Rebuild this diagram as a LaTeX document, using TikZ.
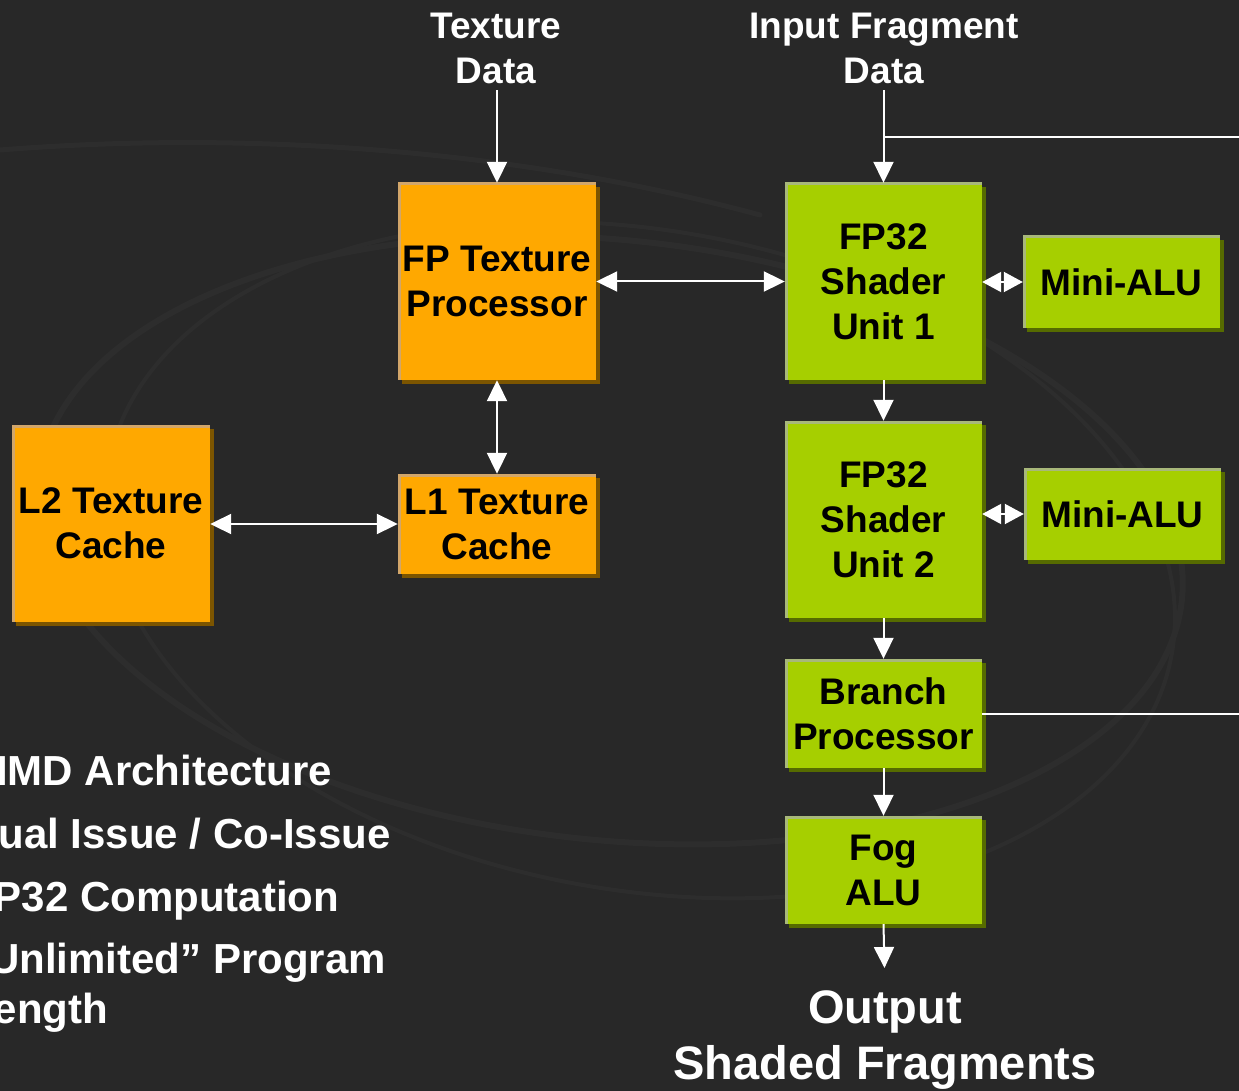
\documentclass[tikz,border=0pt]{standalone}
\usepackage{fontspec}
\setmainfont{Liberation Sans}
\usetikzlibrary{arrows.meta,shadows}

\definecolor{bg}{HTML}{282828}
\definecolor{swirl}{HTML}{2D2D2D}
\definecolor{orfill}{HTML}{FFA800}
\definecolor{oredge}{HTML}{D2A66A}
\definecolor{orshade}{HTML}{7C5500}
\definecolor{grfill}{HTML}{A6CF00}
\definecolor{gredge}{HTML}{A8B87A}
\definecolor{grshade}{HTML}{566B00}

\tikzset{
  blockbase/.style={inner sep=0pt, align=center, text=black,
    font=\fontsize{37}{45}\selectfont\bfseries},
  orangebox/.style={blockbase, fill=orfill,
    drop shadow={shadow xshift=4pt, shadow yshift=-4pt, fill=orshade, opacity=1},
    path picture={\draw[oredge, line width=5pt]
      (path picture bounding box.south west) -- (path picture bounding box.north west)
      -- (path picture bounding box.north east);}},
  greenbox/.style={blockbase, fill=grfill,
    drop shadow={shadow xshift=4pt, shadow yshift=-4pt, fill=grshade, opacity=1},
    path picture={\draw[gredge, line width=5pt]
      (path picture bounding box.south west) -- (path picture bounding box.north west)
      -- (path picture bounding box.north east);}},
  inlabel/.style={inner sep=0pt, align=center, text=white,
    font=\fontsize{37}{45}\selectfont\bfseries},
  bullet/.style={inner sep=0pt, anchor=base west, text=white,
    font=\fontsize{42}{50}\selectfont\bfseries},
  wire/.style={draw=white, line width=2pt},
  link/.style={wire, -{Triangle[length=21pt,width=20pt]}},
  biway/.style={wire, {Triangle[length=21pt,width=20pt]}-{Triangle[length=21pt,width=20pt]}},
  shortbiway/.style={wire, {Triangle[length=19pt,width=20pt]}-{Triangle[length=19pt,width=20pt]}},
}

\begin{document}
\begin{tikzpicture}[x=1pt, y=-1pt]
  % canvas
  \clip (0,0) rectangle (1239,1091);
  \fill[bg] (0,0) rectangle (1239,1091);

  % faint background swirl
  \begin{scope}[swirl, line width=6pt, line cap=round]
    \draw[rotate around={-6:(610,540)}] (610,540) ellipse [x radius=575, y radius=300];
    \draw[rotate around={-10:(640,560)}, line width=4pt] (640,560) ellipse [x radius=540, y radius=330];
    \draw[line width=5pt] (0,150) .. controls (250,130) and (520,150) .. (760,215);
  \end{scope}

  % blocks
  \node[orangebox, minimum width=198pt, minimum height=197pt] (ftp) at (497,281.5) {FP Texture\\Processor};
  \node[orangebox, minimum width=198pt, minimum height=100pt] (l1) at (497,524) {L1 Texture\\Cache};
  \node[orangebox, minimum width=198pt, minimum height=197pt] (l2) at (111,523.5) {L2 Texture\\Cache};

  \node[greenbox, minimum width=197pt, minimum height=197pt] (su1) at (883.5,281.5) {FP32\\Shader\\Unit 1};
  \node[greenbox, minimum width=197pt, minimum height=197pt] (su2) at (883.5,519.5) {FP32\\Shader\\Unit 2};
  \node[greenbox, minimum width=197pt, minimum height=92pt] (ma1) at (1121.5,282) {Mini-ALU};
  \node[greenbox, minimum width=197pt, minimum height=92pt] (ma2) at (1122.5,514) {Mini-ALU};
  \node[greenbox, minimum width=197pt, minimum height=109pt] (br) at (883.5,713.5) {Branch\\Processor};
  \node[greenbox, minimum width=197pt, minimum height=108pt] (fog) at (883.5,870) {Fog\\ALU};

  % inputs and output
  \node[inlabel, anchor=north] (tex) at (496,13) {Texture\\Data};
  \node[inlabel, anchor=north] (inp) at (884,13) {Input Fragment\\Data};
  \node[inlabel, anchor=north, font=\fontsize{47}{56}\selectfont\bfseries] (out) at (885,990) {Output\\Shaded Fragments};

  % connectors
  \draw[link, shorten <=6pt] (tex.south -| ftp.north) -- (ftp.north);
  \draw[link, shorten <=6pt] (inp.south -| su1.north) -- (su1.north);
  \coordinate (fbk) at (su1.north |- 0,137);
  \coordinate (fbkR) at (1239,137);
  \draw[wire] (fbk) -- (fbkR);

  \draw[biway] (ftp.east |- su1.west) -- (su1.west);
  \draw[biway] (ftp.south) -- (l1.north);
  \draw[biway] (l2.east |- l1.west) -- (l1.west);
  \draw[shortbiway] (su1.east |- ma1.west) -- (ma1.west);
  \draw[shortbiway] (su2.east |- ma2.west) -- (ma2.west);

  \draw[link] (su1.south) -- (su2.north);
  \draw[link] (su2.south) -- (br.north);
  \draw[link] (br.south) -- (fog.north);
  \draw[link, shorten >=22pt] (fog.south) -- (out.north);
  \coordinate (brR) at (1239,714);
  \draw[wire] (br.east |- brR) -- (brR);

  % feature list
  \node[bullet] (b1) at (-32,785) {SIMD Architecture};
  \node[bullet] (b2) at (-32,848) {Dual Issue / Co-Issue};
  \node[bullet] (b3) at (-32,911) {FP32 Computation};
  \node[bullet] (b4) at (-32,973) {“Unlimited” Program};
  \node[bullet] (b5) at (-32,1023) {Length};
\end{tikzpicture}
\end{document}
